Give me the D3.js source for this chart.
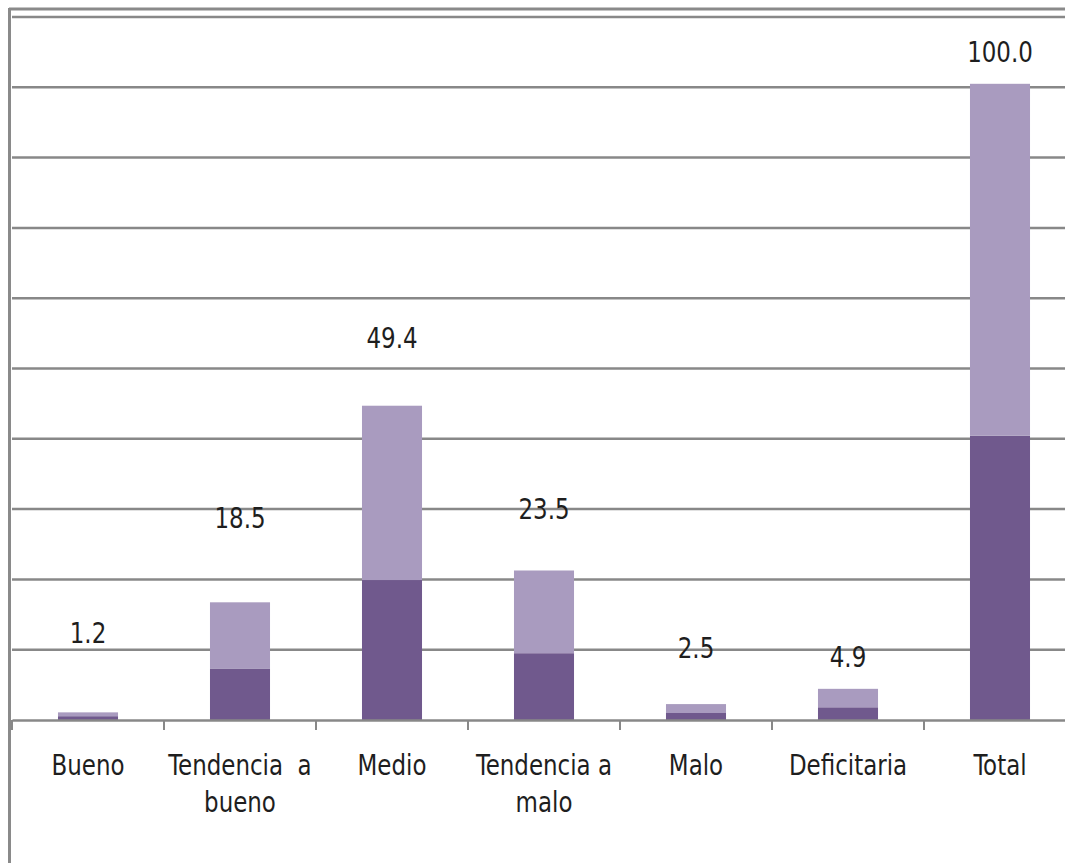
<!DOCTYPE html>
<html>
<head>
<meta charset="utf-8">
<script src="https://cdn.jsdelivr.net/npm/d3@7"></script>
<style>
  body { margin: 0; background: #fff; }
  svg text { font-family: "Liberation Sans Narrow", "DejaVu Sans Condensed", "Arial Narrow", sans-serif; fill: #1e1e1e; }
</style>
</head>
<body>
<script>
// categories and stacked values
var categories = ["Bueno", "Tendencia a bueno", "Medio", "Tendencia a malo", "Malo", "Deficitaria", "Total"];
var catLines = [["Bueno"], ["Tendencia  a", "bueno"], ["Medio"], ["Tendencia a", "malo"], ["Malo"], ["Deficitaria"], ["Total"]];
var darkSeries = [0.6, 8.1, 22.0, 10.5, 1.1, 2.0, 44.7];
var lightSeries = [0.6, 10.4, 27.4, 13.0, 1.4, 2.9, 55.3];
var totals = ["1.2", "18.5", "49.4", "23.5", "2.5", "4.9", "100.0"];
// where the total labels sit (value units, they were placed by hand in the original)
var labelHeights = [12.1, 30.2, 58.4, 31.6, 9.8, 8.3, 103.5];
// hidden value axis: 10 gridlines up to the axis max
var gridValues = [11.05, 22.1, 33.15, 44.2, 55.25, 66.3, 77.35, 88.4, 99.45, 110.5];

var width = 1065, height = 863;
var left = 12, baseY = 720, topY = 17;
var fontSize = 29, squeeze = 0.88;

var svg = d3.select("body").append("svg")
    .attr("width", width)
    .attr("height", height);

var x = d3.scaleBand()
    .domain(categories)
    .range([left, left + 7 * 152])
    .paddingInner(0.605)
    .paddingOuter(0.3025);

var y = d3.scaleLinear()
    .domain([0, 110.5])
    .range([baseY, topY]);

// frame
svg.append("line")
    .attr("x1", 9).attr("x2", width)
    .attr("y1", 9).attr("y2", 9)
    .attr("stroke", "#8a8a8a").attr("stroke-width", 3);
svg.append("line")
    .attr("x1", 9.5).attr("x2", 9.5)
    .attr("y1", 8).attr("y2", height)
    .attr("stroke", "#8a8a8a").attr("stroke-width", 3);

// gridlines
svg.append("g").selectAll("line")
    .data(gridValues)
    .enter().append("line")
    .attr("x1", left).attr("x2", width)
    .attr("y1", function(d) { return y(d); })
    .attr("y2", function(d) { return y(d); })
    .attr("stroke", "#888").attr("stroke-width", 2.5);

// stacked bars
var stackData = categories.map(function(c, i) {
    return {cat: c, dark: darkSeries[i], light: lightSeries[i]};
});
var series = d3.stack().keys(["dark", "light"])(stackData);
var colors = {dark: "#70598d", light: "#a99bbf"};

svg.append("g").selectAll("g")
    .data(series)
    .enter().append("g")
    .attr("fill", function(d) { return colors[d.key]; })
    .selectAll("rect")
    .data(function(d) { return d; })
    .enter().append("rect")
    .attr("x", function(d) { return x(d.data.cat); })
    .attr("width", x.bandwidth())
    .attr("y", function(d) { return y(d[1]); })
    .attr("height", function(d) { return y(d[0]) - y(d[1]); });

// axis
var axis = d3.axisBottom(x).tickSize(0).tickFormat("");
var gAxis = svg.append("g")
    .attr("transform", "translate(0," + baseY + ")")
    .call(axis);
gAxis.select(".domain").attr("stroke", "#888").attr("stroke-width", 2.5);

var bounds = d3.range(categories.length + 1).map(function(i) { return left + i * x.step(); });
svg.append("g").selectAll("line")
    .data(bounds)
    .enter().append("line")
    .attr("x1", function(d) { return d; })
    .attr("x2", function(d) { return d; })
    .attr("y1", baseY).attr("y2", baseY + 10)
    .attr("stroke", "#888").attr("stroke-width", 2);

function cx(c) { return x(c) + x.bandwidth() / 2; }

// category labels
svg.append("g").selectAll("text")
    .data(categories)
    .enter().append("text")
    .attr("text-anchor", "middle")
    .attr("font-size", fontSize)
    .attr("transform", function(c) { return "translate(" + cx(c) + ",775) scale(" + squeeze + ",1)"; })
    .each(function(c, i) {
        var t = d3.select(this);
        catLines[i].forEach(function(line, j) {
            t.append("tspan")
                .attr("x", 0)
                .attr("y", j * 37)
                .attr("xml:space", "preserve")
                .text(line);
        });
    });

// total labels
svg.append("g").selectAll("text")
    .data(categories)
    .enter().append("text")
    .attr("text-anchor", "middle")
    .attr("font-size", fontSize)
    .attr("transform", function(c, i) {
        return "translate(" + cx(c) + "," + y(labelHeights[i]) + ") scale(" + squeeze + ",1)";
    })
    .text(function(c, i) { return totals[i]; });
</script>
</body>
</html>
